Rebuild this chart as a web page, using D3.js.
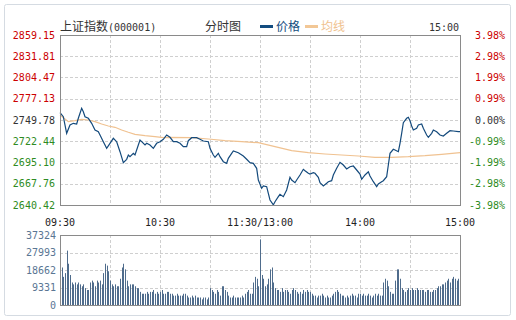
<!DOCTYPE html>
<html><head><meta charset="utf-8">
<script src="https://cdn.jsdelivr.net/npm/d3@7/dist/d3.min.js"></script>
<style>html,body{margin:0;padding:0;background:#fff}svg{display:block}</style>
</head><body><svg id="c" width="516" height="320"></svg>
<script>
const priceTicks = [2640.42, 2667.76, 2695.10, 2722.44, 2749.78, 2777.13, 2804.47, 2831.81, 2859.15];
const pctLabels = ["-3.98%", "-2.98%", "-1.99%", "-0.99%", "0.00%", "0.99%", "1.99%", "2.98%", "3.98%"];
const timeTicks = [0, 60, 120, 180, 240];
const timeLabels = ["09:30", "10:30", "11:30/13:00", "14:00", "15:00"];
const volTicks = [0, 9331, 18662, 27993, 37324];
const prevClose = 2749.78;

const priceMin = [0,2,4,6,8,10,11,13,14,15,17,19,21,23,24,26,28,30,32,34,36,38,40,41,42,44,45,47,48,49,51,52,54,56,58,60,62,64,66,68,70,72,74,76,77,79,82,84,86,89,90,92,93,95,96,98,100,101,103,104,107,110,112,114,116,118,119,121,122,124,125,126,128,129,131,132,134,136,138,139,141,142,144,146,147,149,150,152,153,155,156,158,160,161,163,164,166,168,170,172,174,176,178,180,181,183,185,186,188,190,191,193,194,196,197,198,200,201,203,204,205,206,208,209,210,211,212,214,215,217,218,220,221,223,224,226,228,230,232,234,236,239,240];
const priceVal = [2759.18,2754.03,2732.67,2743.35,2745.54,2744.64,2751.97,2764.84,2760.46,2754.03,2751.97,2745.54,2736.92,2734.73,2730.48,2721.86,2713.37,2719.81,2726.24,2721.86,2709.00,2694.84,2699.22,2704.75,2702.56,2706.94,2704.75,2717.62,2724.05,2721.86,2717.62,2719.81,2717.62,2713.37,2719.81,2721.86,2724.95,2730.48,2727.53,2721.86,2721.86,2719.81,2715.43,2715.43,2723.15,2727.01,2727.01,2724.95,2722.77,2721.86,2713.37,2704.75,2701.79,2706.94,2702.56,2696.13,2694.07,2700.51,2706.94,2709.90,2707.71,2703.47,2699.22,2694.84,2694.07,2687.64,2672.59,2661.91,2664.87,2663.97,2655.47,2646.85,2640.50,2644.67,2651.10,2654.19,2651.10,2659.72,2676.06,2672.59,2669.11,2672.59,2679.02,2686.35,2684.55,2681.21,2680.31,2681.98,2681.21,2676.06,2669.11,2664.87,2668.34,2670.40,2671.69,2679.02,2687.64,2695.36,2691.89,2686.74,2689.70,2690.60,2685.45,2680.31,2673.49,2679.02,2683.26,2677.73,2670.40,2663.97,2667.44,2670.40,2671.69,2676.83,2691.89,2706.94,2712.09,2711.19,2709.00,2719.81,2732.67,2746.31,2751.97,2753.26,2748.88,2742.06,2736.92,2739.11,2743.35,2744.64,2739.11,2730.48,2727.53,2732.67,2736.92,2734.73,2730.48,2729.20,2732.67,2736.02,2735.63,2734.73,2734.73];

const avgMin = [0,5,9,13,17,21,25,29,33,37,41,45,51,57,62,65,79,89,99,109,119,129,139,149,159,169,179,189,199,209,219,229,240];
const avgVal = [2756.22,2747.60,2748.88,2750.69,2749.78,2747.60,2744.64,2742.06,2740.39,2736.92,2733.96,2731.39,2729.58,2728.30,2727.01,2727.50,2727.01,2725.34,2723.15,2721.86,2720.58,2715.43,2710.28,2707.71,2706.04,2704.75,2703.47,2701.79,2701.79,2702.56,2703.85,2705.65,2707.71];

const volumes = [
22000,20000,15000,17000,29000,22000,16000,12000,11000,12000,
11000,12000,11000,10000,11000,9000,8000,8000,12000,13000,
12000,10000,13000,12000,13000,11000,17000,22000,21000,18000,
13000,11000,10000,11000,10000,10000,14000,20000,22000,19000,
13000,10000,11000,11000,11000,10000,9000,9000,7000,6000,
6000,6000,7000,6000,7000,7000,8000,6000,7000,6000,
7000,8000,6000,6000,7000,7000,6000,6000,5000,5000,
6000,5000,5000,5000,6000,6000,5000,4000,4000,5000,
4000,5000,4000,4000,4000,3000,4000,4000,3000,4000,
9000,8000,7000,6000,8000,7000,5000,10000,10000,8000,
7000,5000,4000,4000,5000,4000,4000,4000,4000,5000,
4000,6000,7000,8000,6000,6000,12000,15000,14000,10000,
35000,16000,14000,10000,11000,14000,19000,20000,12000,9000,
8000,8000,7000,9000,7000,8000,8000,7000,6000,8000,
9000,8000,7000,6000,7000,6000,8000,7000,8000,7000,
7000,6000,5000,5000,4000,5000,5000,6000,5000,4000,
5000,4000,4000,5000,6000,7000,8000,7000,6000,5000,
5000,4000,5000,4000,5000,6000,5000,5000,4000,6000,
6000,5000,6000,5000,5000,6000,5000,4000,5000,6000,
5000,6000,5000,5000,12000,14000,13000,10000,7000,6000,
6000,13000,19000,19000,14000,9000,8000,7000,8000,9000,
8000,9000,8000,8000,9000,8000,8000,8000,8000,7000,
8000,8000,7000,7000,8000,8000,9000,10000,10000,11000,
11000,12000,13000,14000,12000,14000,15000,14000,13000,14000,14000];

const svg = d3.select("#c");
const L = 60, R = 460, T = 35, B = 205, VT = 235, VB = 305;
const x = d3.scaleLinear().domain([0, 240]).range([L, R]);
const y = d3.scaleLinear().domain([priceTicks[0], priceTicks[8]]).range([B, T]);
const yv = d3.scaleLinear().domain([0, volTicks[4]]).range([VB, VT]);

const mono = "'DejaVu Sans Mono', 'Liberation Mono', monospace";
const cjk = "'Noto Sans CJK SC', sans-serif";

// outer border
svg.append("rect").attr("x", 4.5).attr("y", 4.5).attr("width", 506).attr("height", 311)
  .attr("fill", "#fff").attr("stroke", "#d5dbe2").attr("rx", 2);

// header
const hdr = svg.append("text").attr("x", 60).attr("y", 31).attr("fill", "#333").attr("font-size", 12).attr("font-family", cjk);
hdr.append("tspan").text("上证指数");
hdr.append("tspan").attr("font-family", mono).attr("font-size", 10).text("(000001)");
svg.append("text").attr("x", 205).attr("y", 31).attr("fill", "#333").attr("font-size", 12).attr("font-family", cjk).text("分时图");
svg.append("line").attr("x1", 260).attr("x2", 273).attr("y1", 26.5).attr("y2", 26.5).attr("stroke", "#134d80").attr("stroke-width", 3);
svg.append("text").attr("x", 276).attr("y", 31).attr("fill", "#134d80").attr("font-size", 12).attr("font-family", cjk).text("价格");
svg.append("line").attr("x1", 305).attr("x2", 318).attr("y1", 26.5).attr("y2", 26.5).attr("stroke", "#f2c796").attr("stroke-width", 3);
svg.append("text").attr("x", 321).attr("y", 31).attr("fill", "#f0c28e").attr("font-size", 12).attr("font-family", cjk).text("均线");
svg.append("text").attr("x", 459).attr("y", 31).attr("text-anchor", "end").attr("fill", "#333").attr("font-size", 10).attr("font-family", mono).text("15:00");

// grids
const grid = svg.append("g").attr("stroke", "#cfcfcf").attr("stroke-dasharray", "3,2").attr("stroke-width", 1);
priceTicks.slice(1, 8).forEach(v => grid.append("line").attr("x1", L).attr("x2", R).attr("y1", Math.round(y(v)) + 0.5).attr("y2", Math.round(y(v)) + 0.5));
d3.range(30, 240, 30).forEach(m => {
  grid.append("line").attr("x1", Math.round(x(m)) + 0.5).attr("x2", Math.round(x(m)) + 0.5).attr("y1", T).attr("y2", B);
  grid.append("line").attr("x1", Math.round(x(m)) + 0.5).attr("x2", Math.round(x(m)) + 0.5).attr("y1", VT).attr("y2", VB);
});
volTicks.slice(1, 4).forEach(v => grid.append("line").attr("x1", L).attr("x2", R).attr("y1", Math.round(yv(v)) + 0.5).attr("y2", Math.round(yv(v)) + 0.5));

// price axis labels
priceTicks.forEach((v, i) => {
  const col = v > prevClose + 0.01 ? "#cc0000" : (v < prevClose - 0.01 ? "#2e8b22" : "#333");
  svg.append("text").attr("x", 55).attr("y", y(v) + 3.5).attr("text-anchor", "end").attr("fill", col)
    .attr("font-size", 10).attr("font-family", mono).text(v.toFixed(2));
  svg.append("text").attr("x", 505).attr("y", y(v) + 3.5).attr("text-anchor", "end").attr("fill", col)
    .attr("font-size", 10).attr("font-family", mono).text(pctLabels[i]);
});
timeTicks.forEach((m, i) => {
  svg.append("text").attr("x", x(m)).attr("y", 226).attr("text-anchor", "middle").attr("fill", "#222")
    .attr("font-size", 10).attr("font-family", mono).text(timeLabels[i]);
});
volTicks.forEach(v => {
  svg.append("text").attr("x", 56).attr("y", yv(v) + 3.5).attr("text-anchor", "end").attr("fill", "#5a7694")
    .attr("font-size", 10).attr("font-family", mono).text(v);
});

// volume bars
svg.append("g").selectAll("rect").data(volumes).join("rect")
  .attr("x", (d, i) => Math.round(x(i)) ).attr("width", 1)
  .attr("y", d => yv(d)).attr("height", d => VB - yv(d)).attr("fill", "#4f6c8c");

// lines
const pts = priceMin.map((m, i) => [m, priceVal[i]]);
const apts = avgMin.map((m, i) => [m, avgVal[i]]);
const line = d3.line().x(d => x(d[0])).y(d => y(d[1]));
svg.append("path").datum(apts).attr("d", line).attr("fill", "none").attr("stroke", "#f0c291").attr("stroke-width", 1.2);
svg.append("path").datum(pts).attr("d", line).attr("fill", "none").attr("stroke", "#144a7c").attr("stroke-width", 1.2);

// frames
svg.append("rect").attr("x", L + 0.5).attr("y", T + 0.5).attr("width", R - L).attr("height", B - T).attr("fill", "none").attr("stroke", "#8a8a8a");
svg.append("rect").attr("x", L + 0.5).attr("y", VT + 0.5).attr("width", R - L).attr("height", VB - VT).attr("fill", "none").attr("stroke", "#8a8a8a");
</script></body></html>
